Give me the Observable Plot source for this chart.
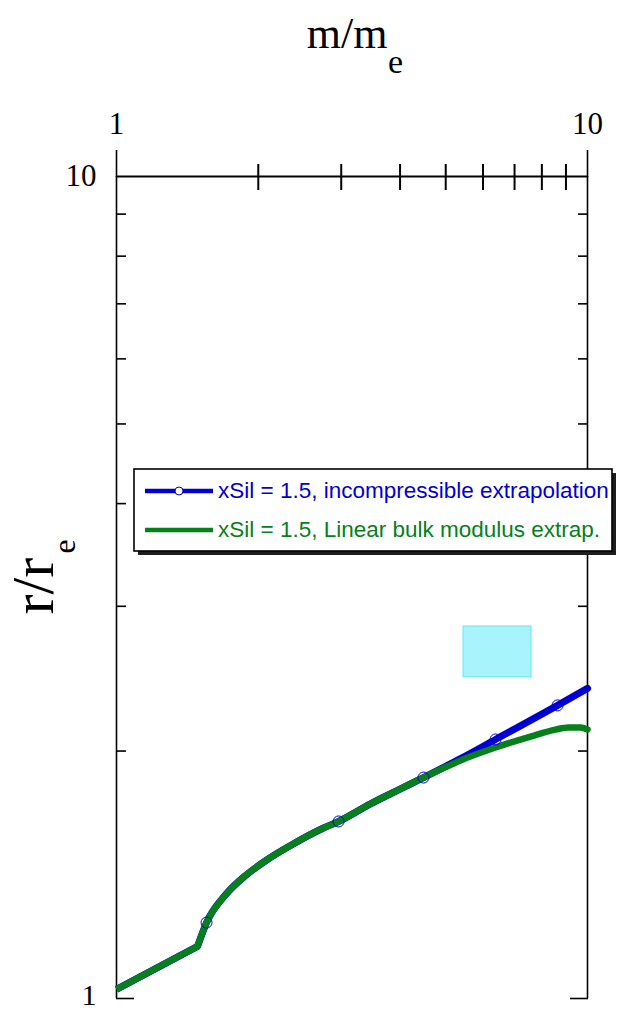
<!DOCTYPE html>
<html>
<head>
<meta charset="utf-8">
<script src="https://cdn.jsdelivr.net/npm/d3@7"></script>
<script src="https://cdn.jsdelivr.net/npm/@observablehq/plot@0.6"></script>
<style>
  html, body { margin: 0; padding: 0; background: #fff; }
  #chart svg { display: block; }
</style>
</head>
<body>
<div id="chart"></div>
<script>
// Mass–radius relation for xSil = 1.5, two extrapolations of the equation of state.
const minorTicks = [2, 3, 4, 5, 6, 7, 8, 9];
const majorTicks = [1, 10];
const tickLabels = [1, 10];

// incompressible extrapolation (m/me, r/re)
const incompMass   = [1.0, 1.486, 1.553, 1.704, 1.879, 2.092, 2.342, 2.751, 2.961, 3.462, 4.009, 4.485, 5.375, 6.378, 8.639, 10.0];
const incompRadius = [1.026, 1.157, 1.237, 1.337, 1.411, 1.476, 1.535, 1.612, 1.642, 1.725, 1.799, 1.857, 1.958, 2.066, 2.273, 2.384];

// linear bulk modulus extrapolation
const bulkMass   = [1.0, 1.486, 1.553, 1.704, 1.879, 2.092, 2.342, 2.751, 2.961, 3.462, 4.009, 4.485, 4.873, 5.375, 6.378, 7.568, 8.555, 9.112, 9.664, 10.0];
const bulkRadius = [1.026, 1.157, 1.237, 1.337, 1.411, 1.476, 1.535, 1.612, 1.642, 1.725, 1.799, 1.857, 1.899, 1.948, 2.020, 2.083, 2.124, 2.136, 2.136, 2.124];

// open-circle markers on the incompressible curve
const markerMass   = [1.553, 2.961, 4.485, 6.378, 8.639];
const markerRadius = [1.237, 1.642, 1.857, 2.066, 2.273];

// shaded observational box
const boxMass   = [5.455, 7.605];
const boxRadius = [2.459, 2.835];

const legendLabels = [
  "xSil = 1.5, incompressible extrapolation",
  "xSil = 1.5, Linear bulk modulus extrap."
];

const BLUE = "#0000d2";
const GREEN = "#05801a";
const SERIF = "'Liberation Serif', 'Times New Roman', Times, serif";
const SANS = "'Liberation Sans', Arial, Helvetica, sans-serif";

const incomp = incompMass.map((m, i) => ({m, r: incompRadius[i]}));
const bulk = bulkMass.map((m, i) => ({m, r: bulkRadius[i]}));
const markers = markerMass.map((m, i) => ({m, r: markerRadius[i]}));
const box = [{m1: boxMass[0], m2: boxMass[1], r1: boxRadius[0], r2: boxRadius[1]}];

// each curve: a straight low-mass branch up to the kink, then a smooth branch
function curveMarks(data, stroke, strokeWidth) {
  return [
    Plot.line(data.slice(0, 2), {x: "m", y: "r", stroke, strokeWidth, strokeLinecap: "butt", curve: "linear"}),
    Plot.line(data.slice(1), {x: "m", y: "r", stroke, strokeWidth, strokeLinecap: "round", strokeLinejoin: "round", curve: "monotone-x"})
  ];
}

const chart = Plot.plot({
  width: 622,
  height: 1013,
  marginTop: 176,
  marginRight: 35,
  marginBottom: 15,
  marginLeft: 116,
  x: {type: "log", domain: [1, 10]},
  y: {type: "log", domain: [1, 10]},
  style: {background: "white", color: "black"},
  marks: [
    // frame: top axis line and side lines
    Plot.ruleY([10], {stroke: "black", strokeWidth: 2}),
    Plot.ruleX([1, 10], {stroke: "black", strokeWidth: 1.6}),

    // top axis: minor ticks straddle the line, major ticks point outward
    Plot.axisX(minorTicks, {anchor: "top", tickSize: 26, dy: 13, strokeWidth: 2, fill: "none", label: null}),
    Plot.axisX(majorTicks, {anchor: "top", tickSize: 27, strokeWidth: 1.6, fill: "none", label: null}),
    Plot.axisX(tickLabels, {anchor: "top", tickSize: 0, tickPadding: 43, fontSize: 31, fontFamily: SERIF, tickFormat: d => String(d), label: null}),

    // left and right axes: inward ticks
    Plot.axisY(minorTicks, {anchor: "left", tickSize: 10, dx: 10, strokeWidth: 1.6, fill: "none", label: null}),
    Plot.axisY([1], {anchor: "left", tickSize: 18, dx: 18, strokeWidth: 1.6, fill: "none", label: null}),
    Plot.axisY(minorTicks, {anchor: "right", tickSize: 10, dx: -10, strokeWidth: 1.6, fill: "none", label: null}),
    Plot.axisY([1], {anchor: "right", tickSize: 18, dx: -18, strokeWidth: 1.6, fill: "none", label: null}),
    Plot.axisY([10], {anchor: "left", tickSize: 0, tickPadding: 20, fontSize: 31, fontFamily: SERIF, tickFormat: d => String(d), label: null}),
    Plot.axisY([1], {anchor: "left", tickSize: 0, tickPadding: 20, dy: -3, fontSize: 30, fontFamily: SERIF, tickFormat: d => String(d), label: null}),

    // axis titles
    Plot.text(["m/m"], {text: d => d, frameAnchor: "top", dx: 35.5, dy: -129, textAnchor: "end", lineAnchor: "bottom", fontSize: 44, fontFamily: SERIF, fill: "black"}),
    Plot.text(["e"], {text: d => d, frameAnchor: "top", dx: 36, dy: -104, textAnchor: "start", lineAnchor: "bottom", fontSize: 34, fontFamily: SERIF, fill: "black"}),
    Plot.text(["r/r"], {text: d => d, frameAnchor: "left", dx: -64, dy: 27, rotate: -90, textAnchor: "start", lineAnchor: "bottom", fontSize: 60, fontFamily: SERIF, fill: "black"}),
    Plot.text(["e"], {text: d => d, frameAnchor: "left", dx: -42, dy: -34, rotate: -90, textAnchor: "start", lineAnchor: "bottom", fontSize: 32, fontFamily: SERIF, fill: "black"}),

    // observational box
    Plot.rect(box, {x1: "m1", x2: "m2", y1: "r1", y2: "r2", fill: "#a7f4fc", stroke: "#62e6f5", strokeWidth: 1}),

    // curves
    ...curveMarks(incomp, BLUE, 7),
    ...curveMarks(bulk, GREEN, 6.5),
    Plot.dot(markers, {x: "m", y: "r", r: 5.5, stroke: BLUE, strokeWidth: 1, fill: "none"})
  ]
});

document.getElementById("chart").appendChild(chart);

// legend box with drop shadow
const svg = d3.select(chart);
const lg = svg.append("g").attr("class", "legend").attr("text-anchor", "start");
const bx = 134, by = 469, bw = 478, bh = 82;
lg.append("rect").attr("x", bx + 4).attr("y", by + 4).attr("width", bw).attr("height", bh).attr("fill", "#1e1e1e");
lg.append("rect").attr("x", bx).attr("y", by).attr("width", bw).attr("height", bh)
  .attr("fill", "white").attr("stroke", "black").attr("stroke-width", 1.6);

const legendColors = [BLUE, GREEN];
legendLabels.forEach((label, i) => {
  const cy = by + 22 + i * 39;
  lg.append("line").attr("x1", bx + 11).attr("x2", bx + 79).attr("y1", cy).attr("y2", cy)
    .attr("stroke", legendColors[i]).attr("stroke-width", 4.5);
  if (i === 0) {
    lg.append("circle").attr("cx", bx + 45).attr("cy", cy).attr("r", 4)
      .attr("fill", "white").attr("stroke", BLUE).attr("stroke-width", 1);
  }
  lg.append("text").attr("x", bx + 84).attr("y", cy + 7)
    .attr("text-anchor", "start")
    .attr("font-family", SANS).attr("font-size", 22.5)
    .attr("fill", legendColors[i]).text(label);
});
</script>
</body>
</html>
